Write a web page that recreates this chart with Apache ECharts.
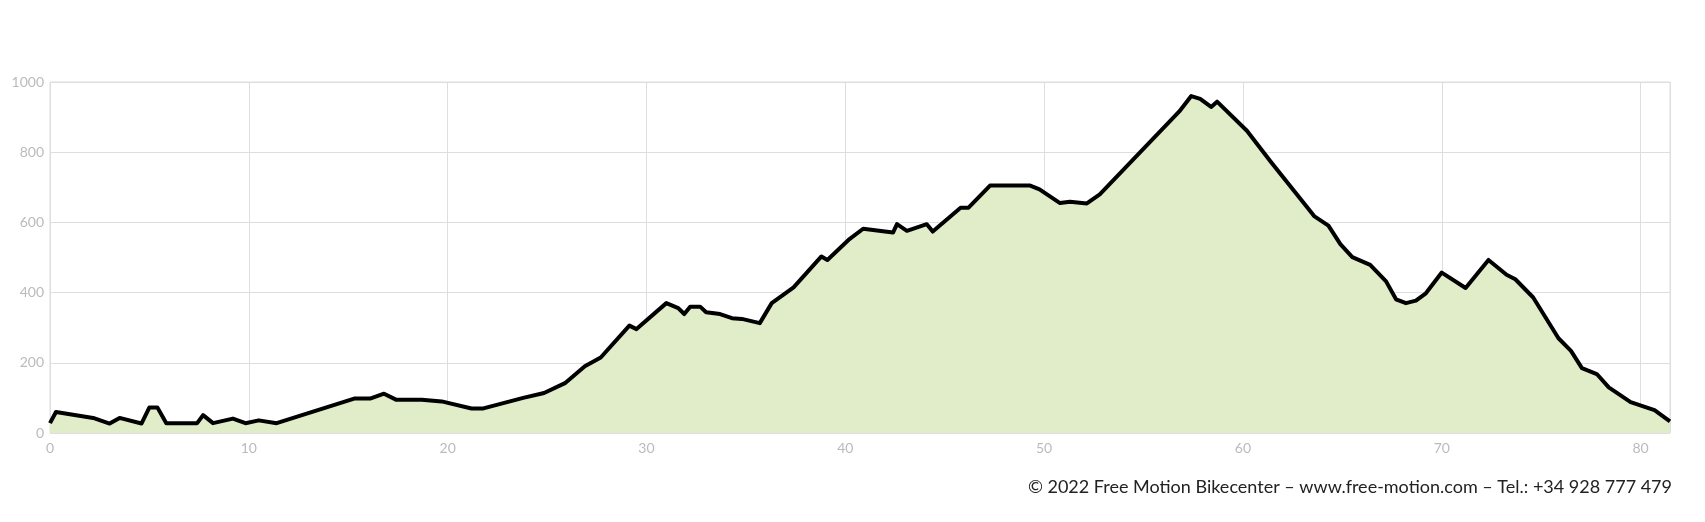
<!DOCTYPE html>
<html>
<head>
<meta charset="utf-8">
<script src="https://cdn.jsdelivr.net/npm/echarts@6/dist/echarts.min.js"></script>
<style>
html,body{margin:0;padding:0;background:#fff;}
#chart{width:1705px;height:522px;}
</style>
</head>
<body>
<div id="chart"></div>
<script>
// Distance (km)
var distanceKm = [0, 0.3, 2.17, 3.0, 3.5, 4.6, 5.0, 5.4, 5.85, 7.4, 7.7, 8.2, 9.2, 9.83, 10.5, 11.4,
  15.3, 16.1, 16.8, 17.4, 18.7, 19.7, 21.2, 21.8, 22.8, 23.8, 24.85, 25.9, 26.9, 27.7, 29.14, 29.5,
  31.0, 31.6, 31.9, 32.2, 32.7, 33.0, 33.7, 34.3, 34.8, 35.7, 36.3, 37.4, 38.8, 39.1, 40.16, 40.9,
  42.4, 42.6, 43.1, 44.1, 44.4, 45.8, 46.2, 47.28, 49.3, 49.77, 50.8, 51.3, 52.15, 52.8, 56.8, 57.4,
  57.85, 58.4, 58.7, 60.2, 61.4, 63.2, 63.6, 64.3, 64.9, 65.5, 66.4, 67.2, 67.7, 68.2, 68.7, 69.2,
  70.0, 71.2, 72.35, 73.26, 73.7, 74.6, 75.87, 76.5, 77.05, 77.8, 78.4, 79.5, 80.7, 81.48];
// Elevation (m)
var elevationM = [28, 60, 43, 27, 43, 27, 73, 73, 28, 28, 51, 28, 41, 28, 36, 28,
  98, 98, 112, 95, 95, 90, 70, 70, 85, 100, 114, 142, 190, 215, 306, 296,
  370, 356, 339, 360, 360, 344, 339, 327, 325, 313, 370, 415, 503, 493, 550, 582,
  571, 595, 576, 595, 574, 642, 642, 705, 705, 694, 655, 659, 654, 680, 916, 960,
  952, 929, 944, 861, 773, 645, 617, 591, 538, 501, 479, 432, 381, 370, 377, 398,
  457, 413, 493, 451, 438, 386, 270, 234, 185, 168, 130, 88, 65, 33];
var yTicks = [0, 200, 400, 600, 800, 1000];
var footerText = '© 2022 Free Motion Bikecenter – www.free-motion.com – Tel.: +34 928 777 479';

var points = distanceKm.map(function (d, i) { return [d, elevationM[i]]; });

var chart = echarts.init(document.getElementById('chart'), null, {renderer: 'canvas'});
chart.setOption({
  animation: false,
  backgroundColor: '#ffffff',
  grid: {left: 50, right: 35, top: 82, bottom: 89, show: true, borderColor: '#dedede', borderWidth: 1},
  xAxis: {
    type: 'value', min: 0, max: 'dataMax', interval: 10,
    axisLine: {show: false}, axisTick: {show: false},
    splitLine: {show: true, lineStyle: {color: '#dedede', width: 1}},
    axisLabel: {color: '#bbbbbb', fontFamily: 'Lato', fontSize: 14, margin: 8, showMaxLabel: false,
      formatter: function (v) { return String(v); }}
  },
  yAxis: {
    type: 'value', min: yTicks[0], max: yTicks[yTicks.length - 1], interval: 200,
    axisLine: {show: false}, axisTick: {show: false},
    splitLine: {show: true, lineStyle: {color: '#dedede', width: 1}},
    axisLabel: {color: '#bbbbbb', fontFamily: 'Lato', fontSize: 14, margin: 6,
      formatter: function (v) { return String(v); }}
  },
  series: [{
    type: 'line', data: points, symbol: 'none', smooth: false,
    lineStyle: {color: '#000000', width: 4, join: 'round'},
    areaStyle: {color: '#e1edc8', opacity: 1}
  }],
  graphic: [{
    type: 'text', right: 33, top: 478,
    style: {text: footerText, fill: '#222222', font: '18px Lato', textAlign: 'right'}
  }]
});
</script>
</body>
</html>
